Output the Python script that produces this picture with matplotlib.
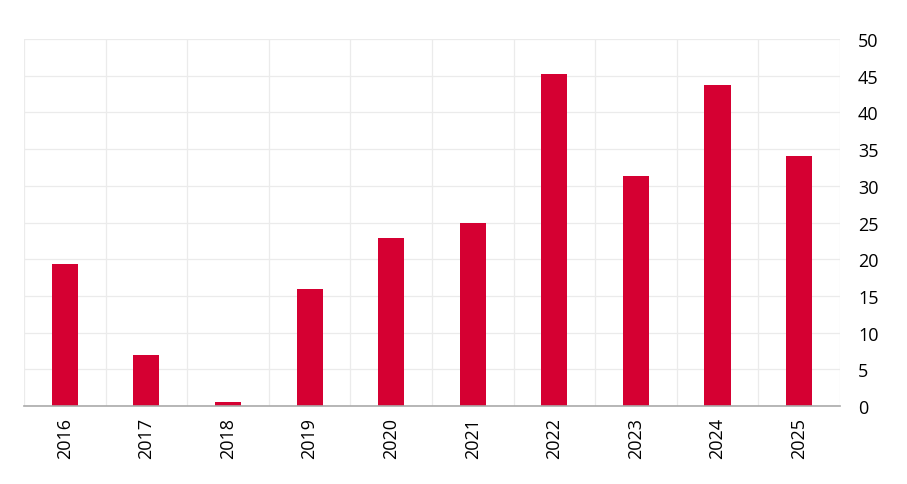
import matplotlib.pyplot as plt
import numpy as np

plt.rcParams['font.family'] = ['Open Sans', 'DejaVu Sans']

years = ["2016", "2017", "2018", "2019", "2020", "2021", "2022", "2023", "2024", "2025"]
values = [19.3, 7.0, 0.5, 15.9, 22.9, 24.9, 45.2, 31.3, 43.7, 34.1]

fig = plt.figure(figsize=(9.07, 4.85), dpi=100)
ax = fig.add_axes([0.0265, 0.1608, 0.8995, 0.7567])

x = np.arange(len(years))
ax.bar(x, values, width=0.32, color="#d50032", zorder=3)

ax.set_xlim(-0.5, len(years) - 0.5)
ax.set_ylim(0, 50)
ax.set_yticks(np.arange(0, 51, 5))
ax.set_xticks(x)
ax.set_xticklabels(years, rotation=90)

# vertical grid at category boundaries
ax.set_xticks(np.arange(-0.5, len(years), 1), minor=True)
ax.grid(which="minor", axis="x", color="#ebebeb", linewidth=0.9, zorder=0)
ax.grid(which="major", axis="y", color="#ebebeb", linewidth=0.9, zorder=0)

ax.yaxis.tick_right()
ax.tick_params(axis="both", which="both", length=0, labelsize=13, colors="#000000")
ax.tick_params(axis="y", pad=13)
ax.tick_params(axis="x", pad=8)

for s in ["top", "left", "right"]:
    ax.spines[s].set_visible(False)
ax.spines["bottom"].set_color("#aaaaaa")
ax.spines["bottom"].set_linewidth(1.2)
ax.spines["bottom"].set_zorder(4)

fig.savefig("out.png", dpi=100)
